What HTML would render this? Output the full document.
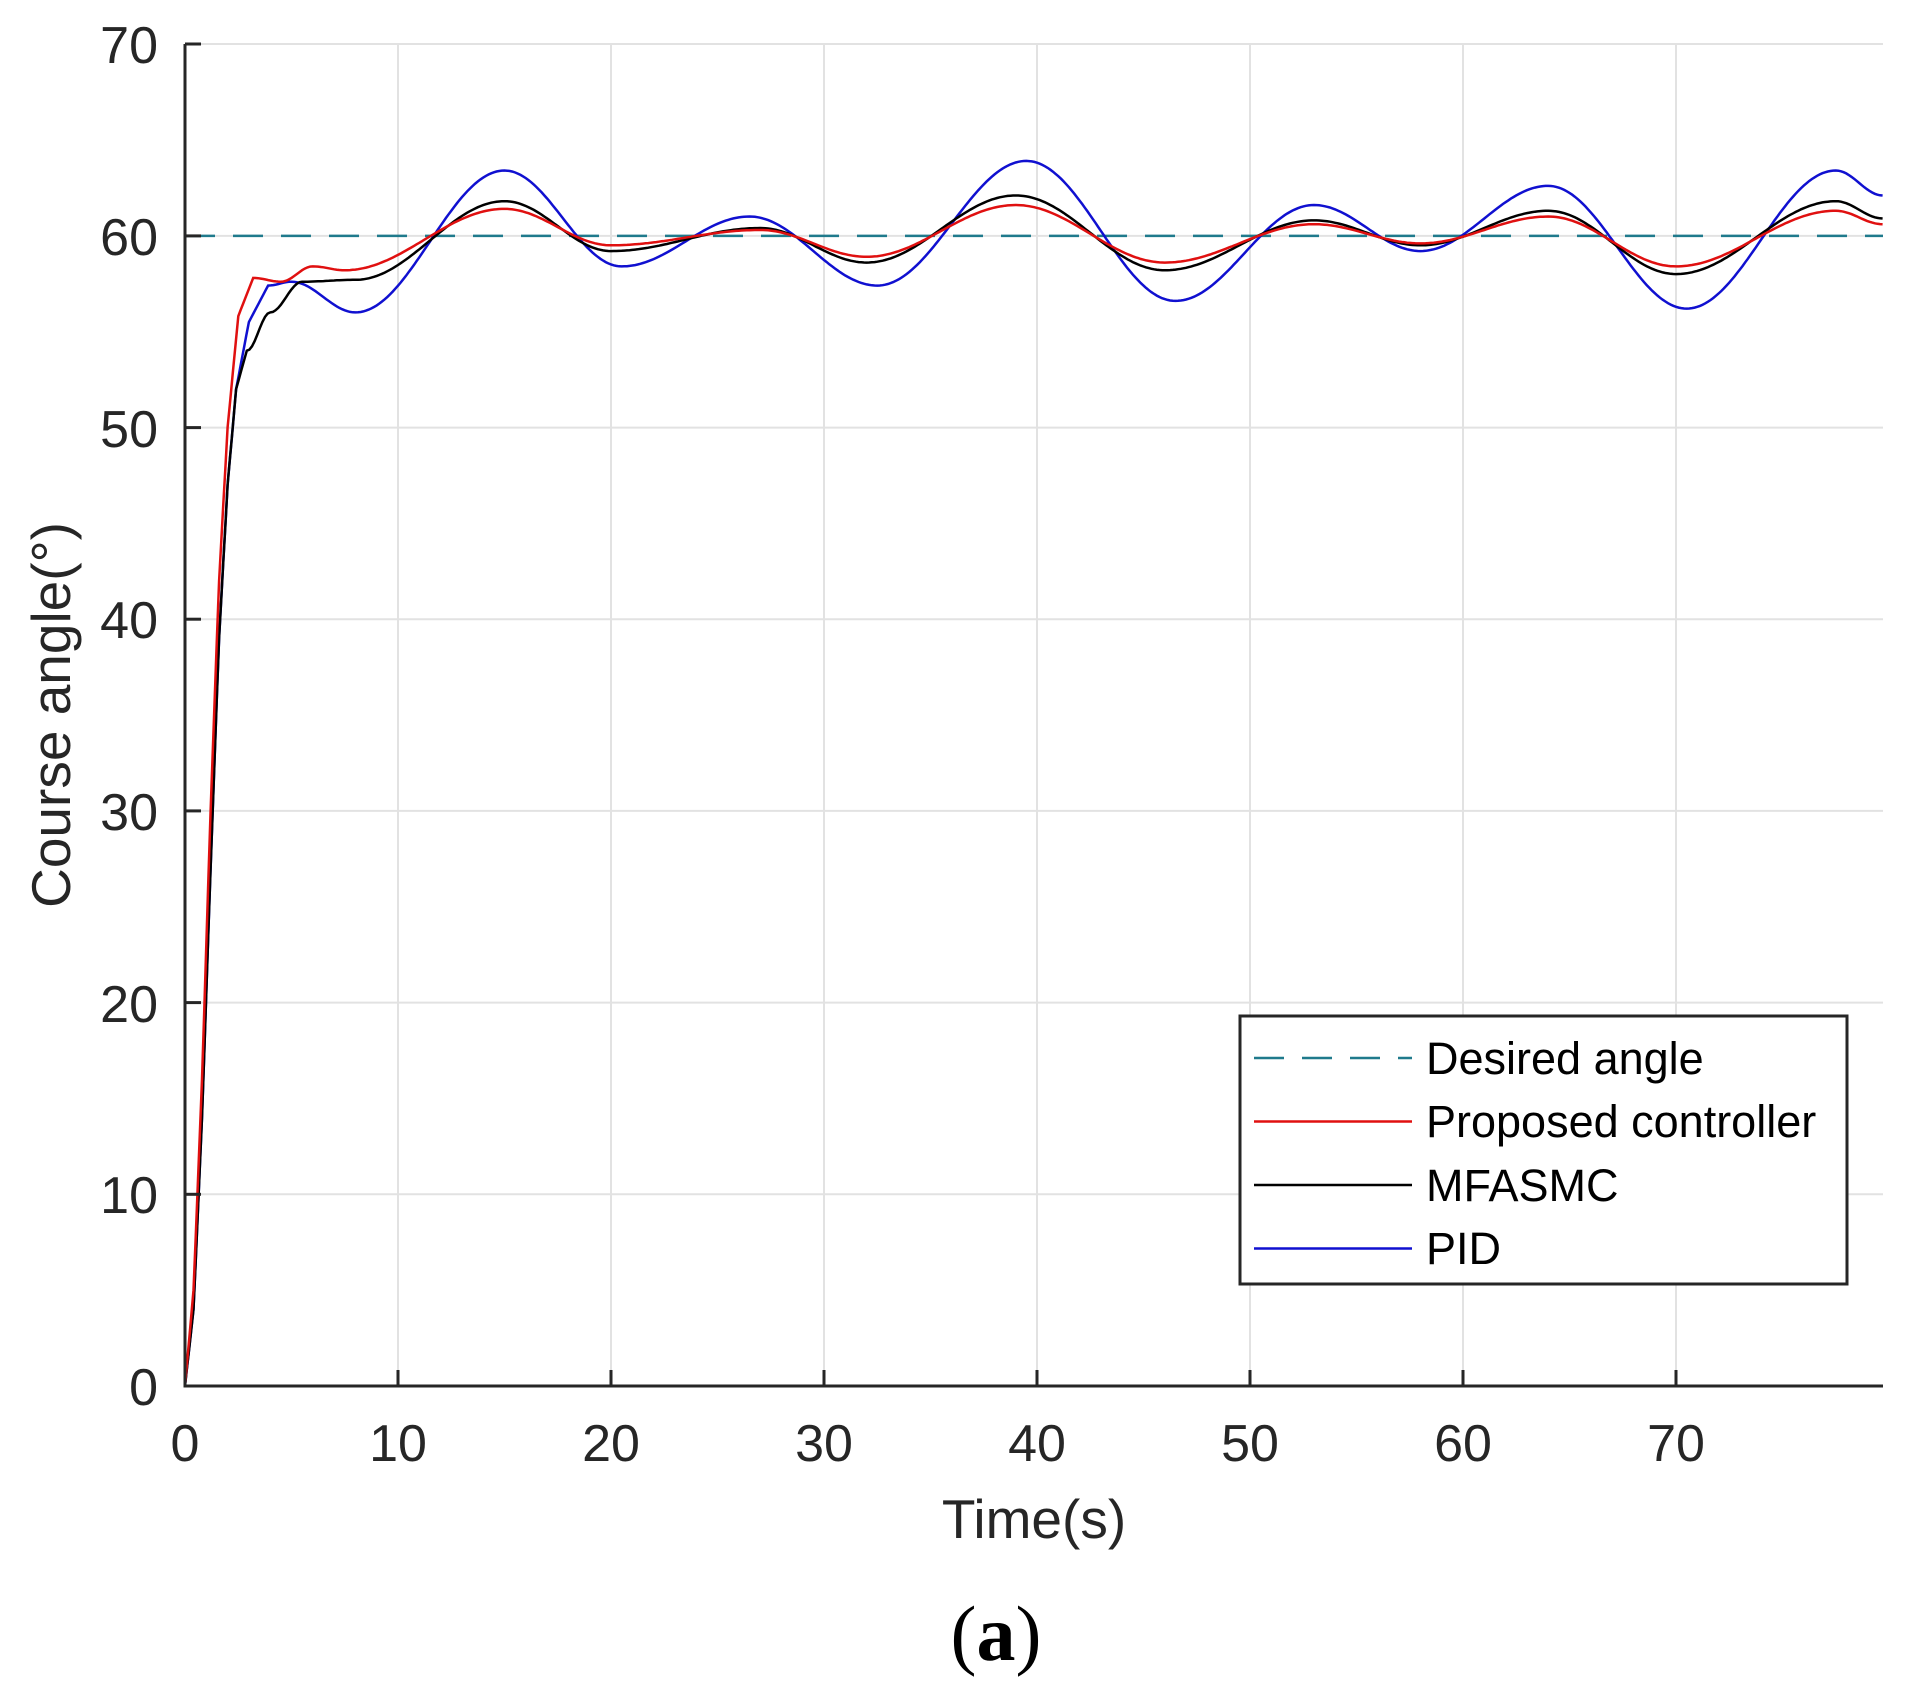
<!DOCTYPE html>
<html><head><meta charset="utf-8"><style>
body{margin:0;background:#fff;width:1912px;height:1700px;overflow:hidden}
text{font-family:"Liberation Sans",sans-serif;fill:#262626}
</style></head><body>
<svg width="1912" height="1700" xmlns="http://www.w3.org/2000/svg">
<g stroke="#e2e2e2" stroke-width="2">
<line x1="398" y1="44" x2="398" y2="1386"/><line x1="611" y1="44" x2="611" y2="1386"/><line x1="824" y1="44" x2="824" y2="1386"/><line x1="1037" y1="44" x2="1037" y2="1386"/><line x1="1250" y1="44" x2="1250" y2="1386"/><line x1="1463" y1="44" x2="1463" y2="1386"/><line x1="1676" y1="44" x2="1676" y2="1386"/>
<line x1="185" y1="1194.3" x2="1883" y2="1194.3"/><line x1="185" y1="1002.6" x2="1883" y2="1002.6"/><line x1="185" y1="810.9" x2="1883" y2="810.9"/><line x1="185" y1="619.2" x2="1883" y2="619.2"/><line x1="185" y1="427.6" x2="1883" y2="427.6"/><line x1="185" y1="235.9" x2="1883" y2="235.9"/><line x1="185" y1="44" x2="1883" y2="44"/>
</g>
<line x1="185" y1="235.9" x2="1883" y2="235.9" stroke="#1f7a8c" stroke-width="2.5" stroke-dasharray="30,18"/>
<g id="curves"></g>
<path d="M185,44V1386H1883" fill="none" stroke="#262626" stroke-width="3"/>
<g stroke="#262626" stroke-width="3">
<line x1="185" y1="1386" x2="185" y2="1370"/><line x1="398" y1="1386" x2="398" y2="1370"/><line x1="611" y1="1386" x2="611" y2="1370"/><line x1="824" y1="1386" x2="824" y2="1370"/><line x1="1037" y1="1386" x2="1037" y2="1370"/><line x1="1250" y1="1386" x2="1250" y2="1370"/><line x1="1463" y1="1386" x2="1463" y2="1370"/><line x1="1676" y1="1386" x2="1676" y2="1370"/>
<line x1="185" y1="1194.3" x2="201" y2="1194.3"/><line x1="185" y1="1002.6" x2="201" y2="1002.6"/><line x1="185" y1="810.9" x2="201" y2="810.9"/><line x1="185" y1="619.2" x2="201" y2="619.2"/><line x1="185" y1="427.6" x2="201" y2="427.6"/><line x1="185" y1="235.9" x2="201" y2="235.9"/><line x1="185" y1="44" x2="201" y2="44"/>
</g>
<g font-size="52" text-anchor="middle">
<text x="185" y="1461">0</text><text x="398" y="1461">10</text><text x="611" y="1461">20</text><text x="824" y="1461">30</text><text x="1037" y="1461">40</text><text x="1250" y="1461">50</text><text x="1463" y="1461">60</text><text x="1676" y="1461">70</text>
</g>
<g font-size="52" text-anchor="end">
<text x="158" y="1405">0</text><text x="158" y="1213">10</text><text x="158" y="1022">20</text><text x="158" y="830">30</text><text x="158" y="638">40</text><text x="158" y="447">50</text><text x="158" y="255">60</text><text x="158" y="63">70</text>
</g>
<text x="1034" y="1538" font-size="55" text-anchor="middle">Time(s)</text>
<text transform="translate(70,715) rotate(-90)" font-size="55" text-anchor="middle">Course angle(°)</text>
<rect x="1240" y="1016" width="607" height="268" fill="#fff" stroke="#262626" stroke-width="3"/>
<line x1="1254" y1="1058" x2="1412" y2="1058" stroke="#1f7a8c" stroke-width="2.5" stroke-dasharray="30,18"/>
<line x1="1254" y1="1121.5" x2="1412" y2="1121.5" stroke="#e01010" stroke-width="2.5"/>
<line x1="1254" y1="1185" x2="1412" y2="1185" stroke="#000" stroke-width="2.5"/>
<line x1="1254" y1="1248.5" x2="1412" y2="1248.5" stroke="#1010d0" stroke-width="2.5"/>
<g font-size="45">
<text x="1426" y="1074" style="fill:#000">Desired angle</text>
<text x="1426" y="1137" style="fill:#000">Proposed controller</text>
<text x="1426" y="1201" style="fill:#000">MFASMC</text>
<text x="1426" y="1264" style="fill:#000">PID</text>
</g>
<text x="996" y="1660" font-size="78" text-anchor="middle" style="font-family:'Liberation Serif',serif;fill:#000">(<tspan font-weight="bold">a</tspan>)</text>
</svg>
<script>
(function(){
var L=185,B=1386,T=44;
function X(t){return L+t*21.3;}
function Y(v){return B-v*(B-T)/70;}
function interp(P){var d='';for(var i=0;i<P.length-1;i++){var a=P[i][0],va=P[i][1],b=P[i+1][0],vb=P[i+1][1];var n=Math.max(2,Math.ceil((b-a)*8));for(var k=(i?1:0);k<=n;k++){var f=k/n;var w=(b-a)<1?f:(1-Math.cos(Math.PI*f))/2;var t=a+(b-a)*f,v=va+(vb-va)*w;d+=(d?'L':'M')+X(t).toFixed(1)+','+Y(v).toFixed(1);}}return d;}
var rise=[[0,0],[0.4,4],[0.8,14],[1.2,27],[1.6,39],[2,47],[2.4,52]];
var pid=rise.concat([[3,55.5],[3.9,57.4],[5,57.6],[8,56],[15,63.4],[20.5,58.4],[26.5,61],[32.5,57.4],[39.5,63.9],[46.5,56.6],[53,61.6],[58,59.2],[64,62.6],[70.5,56.2],[77.5,63.4],[79.7,62.1]]);
var blk=rise.concat([[2.9,54],[4,56],[5.5,57.6],[8,57.7],[15,61.8],[20,59.2],[27,60.4],[32,58.6],[39,62.1],[46,58.2],[53,60.8],[58,59.5],[64,61.3],[70,58],[77.5,61.8],[79.7,60.9]]);
var red=[[0,0],[0.4,5],[0.8,16],[1.2,30],[1.6,42],[2,50],[2.5,55.8],[3.2,57.8],[4.5,57.6],[6,58.4],[7.5,58.2],[15,61.4],[20,59.5],[27,60.3],[32,58.9],[39,61.6],[46,58.6],[53,60.6],[58,59.6],[64,61],[70,58.4],[77.5,61.3],[79.7,60.6]];
var h='<path d="'+interp(pid)+'" fill="none" stroke="#1010d0" stroke-width="2.5"/>'+
'<path d="'+interp(blk)+'" fill="none" stroke="#000" stroke-width="2.5"/>'+
'<path d="'+interp(red)+'" fill="none" stroke="#e01010" stroke-width="2.5"/>';
document.getElementById('curves').innerHTML=h;
})();
</script>
</body></html>
